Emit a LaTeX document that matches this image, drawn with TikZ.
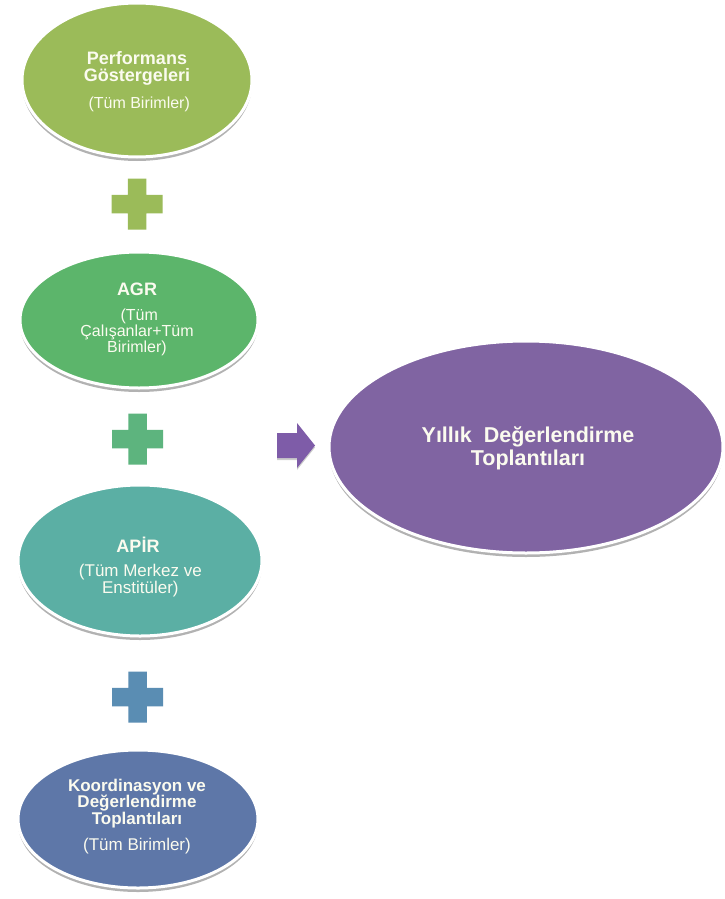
\documentclass[tikz,border=0pt]{standalone}
\usepackage{fontspec}
\setmainfont{Liberation Sans}
\usetikzlibrary{shapes.geometric,shadows,calc}
\definecolor{cOne}{HTML}{9BBB59}
\definecolor{cTwo}{HTML}{5CB56B}
\definecolor{cThree}{HTML}{5BAFA4}
\definecolor{cFour}{HTML}{5E77A8}
\definecolor{cBig}{HTML}{8064A2}
\definecolor{pOne}{HTML}{9BBB59}
\definecolor{pTwo}{HTML}{5DB47E}
\definecolor{pThree}{HTML}{5A8DB3}
\definecolor{arrowcol}{HTML}{7E5CA8}
\definecolor{txtcol}{HTML}{FBFBEF}
\begin{document}
\begin{tikzpicture}[x=1pt,y=-1pt,
  oval/.style={ellipse, inner sep=0pt, draw=white, line width=3pt,
    drop shadow={shadow xshift=0pt, shadow yshift=-4pt, opacity=0.3, fill=black}},
  lbl/.style={text=txtcol, align=center, inner sep=0pt},
  plussign/.pic={\fill[pic actions] (-9.25,-25.5) -- (9.25,-25.5) -- (9.25,-9.25) -- (25.5,-9.25) -- (25.5,9.25) -- (9.25,9.25) -- (9.25,25.5) -- (-9.25,25.5) -- (-9.25,9.25) -- (-25.5,9.25) -- (-25.5,-9.25) -- (-9.25,-9.25) -- cycle;},
  plusshadow/.style={drop shadow={shadow xshift=0pt, shadow yshift=-2pt, opacity=0.2, fill=black}}
]
\useasboundingbox[fill=white] (0,0) rectangle (724,899);

% ellipses
\node[oval, fill=cOne,   minimum width=230pt, minimum height=154pt] (e1) at (137,80) {};
\node[oval, fill=cTwo,   minimum width=238pt, minimum height=136pt] (e2) at (139,320) {};
\node[oval, fill=cThree, minimum width=244pt, minimum height=151pt] (e3) at (140,560.5) {};
\node[oval, fill=cFour,  minimum width=240pt, minimum height=138pt] (e4) at (138,819) {};
\node[oval, fill=cBig,   minimum width=394pt, minimum height=212pt] (big) at (526,447) {};

% texts
\node[lbl, font=\fontsize{18}{17}\selectfont\bfseries] (t1) at (137,81.6)
  {Performans\\Göstergeleri\\[10pt]{\fontsize{16}{17}\selectfont\mdseries\ (Tüm Birimler)}};
\node[lbl, font=\fontsize{16}{16}\selectfont] (t2) at (137,319.6)
  {{\fontsize{18}{16}\selectfont\bfseries AGR}\\[9pt]\ (Tüm\\Çalışanlar+Tüm\\Birimler)};
\node[lbl, font=\fontsize{17}{16.5}\selectfont] (t3) at (138,567)
  {{\fontsize{18}{16.5}\selectfont\bfseries APİR}\\[7.5pt]\ (Tüm Merkez ve\\\ Enstitüler)};
\node[lbl, font=\fontsize{17}{16.5}\selectfont\bfseries] (t4) at (137,816.6)
  {Koordinasyon ve\\Değerlendirme\\Toplantıları\\[10pt]{\fontsize{17}{16.5}\selectfont\mdseries (Tüm Birimler)}};
\node[lbl, font=\fontsize{21.5}{23}\selectfont\bfseries] (tb) at (528,447.9)
  {Yıllık~ Değerlendirme\\Toplantıları};

% plus signs
\pic[fill=pOne, plusshadow] (p1) at (137,204) {plussign};
\pic[fill=pTwo, plusshadow] (p2) at (137.5,439) {plussign};
\pic[fill=pThree, plusshadow] (p3) at (137.5,697) {plussign};

% block arrow
\fill[arrowcol, plusshadow] (277,433) -- (297,433) -- (297,423) -- (315,445.5) -- (297,468) -- (297,458) -- (277,458) -- cycle;
\end{tikzpicture}
\end{document}
